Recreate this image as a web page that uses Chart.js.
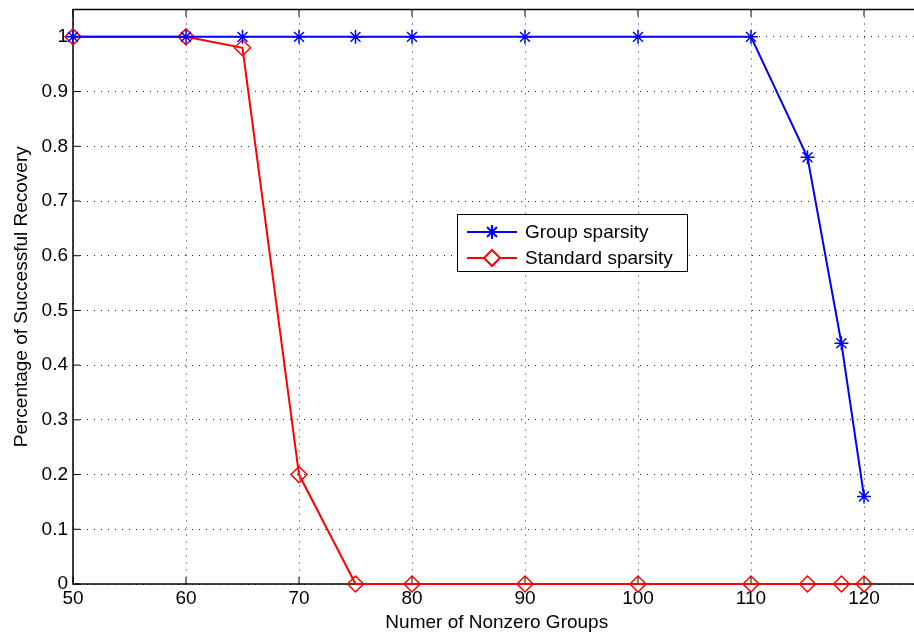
<!DOCTYPE html>
<html>
<head>
<meta charset="utf-8">
<script src="https://cdn.jsdelivr.net/npm/chart.js@4.4.0/dist/chart.umd.min.js"></script>
<style>
  html, body { margin: 0; padding: 0; background: #fff; overflow: hidden; }
  #wrap { width: 930px; height: 635px; }
</style>
</head>
<body>
<div id="wrap"><canvas id="recoveryChart" width="930" height="635"></canvas></div>
<script>
const groupsX = [50, 60, 65, 70, 75, 80, 90, 100, 110, 115, 118, 120];
const groupSparsity = [1, 1, 1, 1, 1, 1, 1, 1, 1, 0.78, 0.44, 0.16];
const standardSparsity = [1, 1, 0.98, 0.2, 0, 0, 0, 0, 0, 0, 0, 0];
const xTicks = [50, 60, 70, 80, 90, 100, 110, 120];
const yTicks = [0, 0.1, 0.2, 0.3, 0.4, 0.5, 0.6, 0.7, 0.8, 0.9, 1];
const seriesNames = ["Group sparsity", "Standard sparsity"];

const FONT = "'Liberation Sans', Arial, Helvetica, sans-serif";
const ctx = document.getElementById("recoveryChart");

const toPoints = (ys) => groupsX.map((x, i) => ({ x, y: ys[i] }));

// matlab style frame, inward ticks and a boxed legend inside the plot
const matlabFrame = {
  id: "matlabFrame",
  beforeDatasetsDraw(chart) {
    const { ctx: c, chartArea: a, scales } = chart;
    c.save();
    c.strokeStyle = "#000";
    c.lineWidth = 1.5;
    c.beginPath();
    c.moveTo(a.right, a.top);
    c.lineTo(a.left, a.top);
    c.lineTo(a.left, a.bottom);
    c.lineTo(a.right, a.bottom);
    c.stroke();

    c.lineWidth = 1;
    xTicks.forEach((t) => {
      const px = scales.x.getPixelForValue(t);
      c.beginPath();
      c.moveTo(px, a.bottom);
      c.lineTo(px, a.bottom - 7);
      c.moveTo(px, a.top);
      c.lineTo(px, a.top + 7);
      c.stroke();
    });
    yTicks.forEach((t) => {
      const py = scales.y.getPixelForValue(t);
      c.beginPath();
      c.moveTo(a.left, py);
      c.lineTo(a.left + 7, py);
      c.stroke();
    });
    c.restore();
  },
  afterDraw(chart) {
    const c = chart.ctx;
    c.save();
    // legend
    const box = { x: 457, y: 214, w: 230, h: 57 };
    c.fillStyle = "#fff";
    c.fillRect(box.x, box.y, box.w, box.h);
    c.lineWidth = 1;
    c.strokeStyle = "#000";
    c.strokeRect(box.x + 0.5, box.y + 0.5, box.w, box.h);
    c.font = "19px " + FONT;
    c.textBaseline = "middle";
    chart.data.datasets.forEach((ds, i) => {
      const yy = box.y + 18 + i * 26;
      c.strokeStyle = ds.borderColor;
      c.lineWidth = ds.borderWidth;
      c.beginPath();
      c.moveTo(box.x + 10, yy);
      c.lineTo(box.x + 60, yy);
      c.stroke();
      c.fillStyle = "#fff";
      Chart.helpers.drawPoint(c, {
        pointStyle: ds.pointStyle,
        radius: ds.pointRadius,
        borderWidth: ds.pointBorderWidth,
        rotation: 0,
      }, box.x + 35, yy);
      c.fillStyle = "#000";
      c.fillText(ds.label, box.x + 68, yy + 1);
    });
    c.restore();
  },
};

new Chart(ctx, {
  type: "line",
  data: {
    datasets: [
      {
        label: seriesNames[0],
        data: toPoints(groupSparsity),
        borderColor: "#0000ff",
        backgroundColor: "#0000ff",
        borderWidth: 2,
        pointStyle: "star",
        pointRadius: 7,
        pointBorderWidth: 1.5,
        pointBorderColor: "#0000ff",
        tension: 0,
        clip: false,
      },
      {
        label: seriesNames[1],
        data: toPoints(standardSparsity),
        borderColor: "#ff0000",
        backgroundColor: "rgba(255,255,255,0)",
        borderWidth: 2,
        pointStyle: "rectRot",
        pointRadius: 8,
        pointBorderWidth: 1.5,
        pointBorderColor: "#ff0000",
        pointBackgroundColor: "rgba(255,255,255,0)",
        tension: 0,
        clip: false,
      },
    ],
  },
  options: {
    responsive: false,
    animation: false,
    layout: { padding: { top: 9, right: 9.5, left: 0, bottom: 0 } },
    plugins: {
      legend: { display: false },
      tooltip: { enabled: false },
    },
    scales: {
      x: {
        type: "linear",
        min: 50,
        max: 125,
        afterBuildTicks: (s) => { s.ticks = xTicks.map((v) => ({ value: v })); },
        afterFit: (s) => { s.height = 51; },
        grid: { color: "#222", lineWidth: 1, drawTicks: false },
        border: { display: false, dash: [1, 6] },
        ticks: { color: "#000", padding: 3, maxRotation: 0, font: { family: FONT, size: 19, lineHeight: 1.2 } },
        title: {
          display: true,
          text: "Numer of Nonzero Groups",
          color: "#000",
          font: { family: FONT, size: 19 },
          padding: { top: 0, bottom: 1 },
        },
      },
      y: {
        min: 0,
        max: 1.05,
        afterBuildTicks: (s) => { s.ticks = yTicks.map((v) => ({ value: v })); },
        afterFit: (s) => { s.width = 73; },
        grid: { color: "#222", lineWidth: 1, drawTicks: false },
        border: { display: false, dash: [1, 6] },
        ticks: {
          color: "#000",
          padding: 5,
          font: { family: FONT, size: 19, lineHeight: 0.4 },
          callback: (v) => String(Math.round(v * 10) / 10),
        },
        title: {
          display: true,
          text: "Percentage of Successful Recovery",
          color: "#000",
          font: { family: FONT, size: 19 },
          padding: { top: 10, bottom: 0 },
        },
      },
    },
  },
  plugins: [matlabFrame],
});
</script>
</body>
</html>
